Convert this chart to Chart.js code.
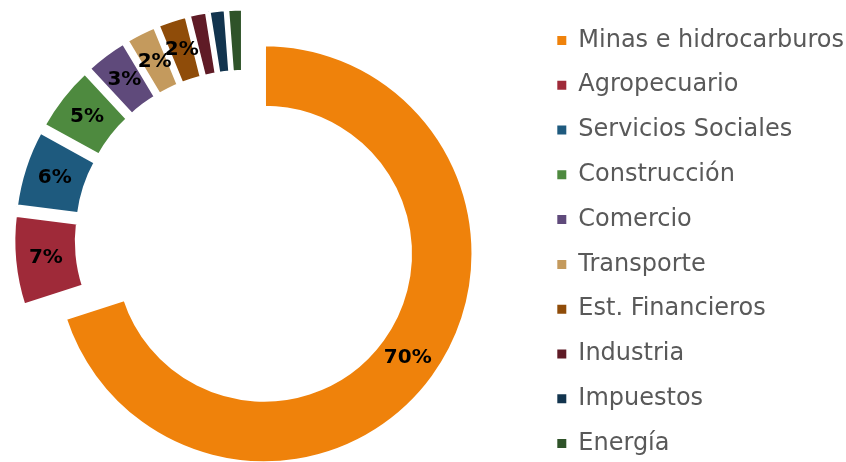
<!DOCTYPE html>
<html>
<head>
<meta charset="utf-8">
<script src="https://cdn.jsdelivr.net/npm/chart.js@4.4.1/dist/chart.umd.min.js"></script>
<style>
  html, body { margin: 0; padding: 0; background: #fff; overflow: hidden; }
  #wrap { width: 846px; height: 462px; position: relative; overflow: hidden; }
  /* canvas is a bit larger than the view so the ring sits left like the original */
  #sectorChart { position: absolute; left: -49px; top: 2px; }
</style>
</head>
<body>
<div id="wrap"><canvas id="sectorChart" width="903" height="480"></canvas></div>
<script>
// Sectors and their share (%)
const sectors = ['Minas e hidrocarburos', 'Agropecuario', 'Servicios Sociales', 'Construcción', 'Comercio',
    'Transporte', 'Est. Financieros', 'Industria', 'Impuestos', 'Energía'];
const shares = [70, 7, 6, 5.1, 3.3, 2.4, 2.3, 1.4, 1.3, 1.2];

const sectorColors = ['#EF820B', '#9F2A39', '#1E5A7E', '#4E8A3F', '#5F4A7B',
    '#C49A5D', '#8F4C09', '#5F1B26', '#12344E', '#2F5329'];
const explodeBy = [25, 21, 21, 21, 21, 21, 21, 21, 21, 21]; // px each slice is pulled out

// pulls every slice out along its mid angle, then writes the % labels
const explodePlugin = {
    id: 'explode',
    beforeDatasetDraw(chart, args) {
        const ctx = chart.ctx;
        args.meta.data.forEach((arc, i) => {
            const mid = (arc.startAngle + arc.endAngle) / 2;
            ctx.save();
            ctx.translate(Math.cos(mid) * explodeBy[i], Math.sin(mid) * explodeBy[i]);
            arc.draw(ctx);
            ctx.restore();
        });
        return false;
    },
    afterDatasetsDraw(chart) {
        const ctx = chart.ctx;
        const meta = chart.getDatasetMeta(0);
        ctx.save();
        ctx.font = 'bold 20px "DejaVu Sans"';
        ctx.fillStyle = '#000';
        ctx.textAlign = 'center';
        ctx.textBaseline = 'middle';
        meta.data.forEach((arc, i) => {
            const pct = Math.round(shares[i]);
            if (pct < 2) return;
            const mid = (arc.startAngle + arc.endAngle) / 2;
            const pos = arc.tooltipPosition();
            ctx.fillText(pct + '%', pos.x + Math.cos(mid) * explodeBy[i], pos.y + Math.sin(mid) * explodeBy[i]);
        });
        ctx.restore();
    }
};

const ctx = document.getElementById('sectorChart').getContext('2d');
const myChart = new Chart(ctx, {
    type: 'doughnut',
    data: {
        labels: sectors,
        datasets: [{
            data: shares,
            backgroundColor: sectorColors,
            borderColor: '#fff',
            borderWidth: 4,
            radius: 209.5,
            cutout: '69.7%'
        }]
    },
    options: {
        responsive: false,
        animation: false,
        devicePixelRatio: 1,
        layout: { padding: 0 },
        plugins: {
            tooltip: { enabled: false },
            // empty spacer under the ring only, lifts it a little above the legend's middle
            title: {
                display: true,
                position: 'bottom',
                fullSize: false,
                text: '',
                padding: 0,
                font: { size: 6, lineHeight: 1 }
            },
            legend: {
                position: 'right',
                align: 'center',
                labels: {
                    boxWidth: 9,
                    boxHeight: 9,
                    padding: 20.8,
                    color: '#595959',
                    font: { family: 'DejaVu Sans', size: 24 },
                    generateLabels(chart) {
                        const base = Chart.overrides.doughnut.plugins.legend.labels.generateLabels(chart);
                        return base.map(item => ({ ...item, lineWidth: 0 }));
                    }
                }
            }
        }
    },
    plugins: [explodePlugin]
});
</script>
</body>
</html>
